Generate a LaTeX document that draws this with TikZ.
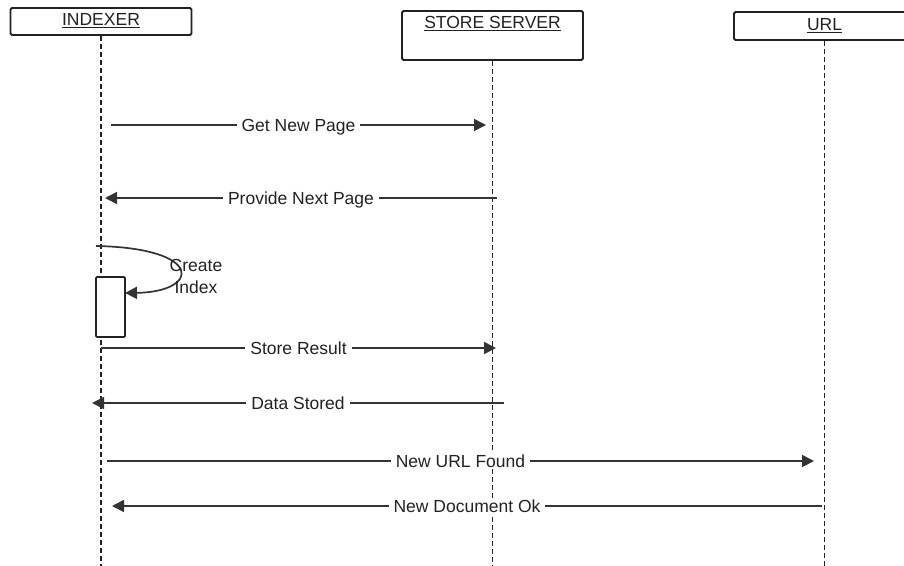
\documentclass[tikz,border=0pt]{standalone}
\usepackage{fontspec}
\setmainfont{Liberation Sans}
\usetikzlibrary{arrows.meta}
\definecolor{ink}{HTML}{222222}
\definecolor{wire}{HTML}{333333}
\begin{document}
\begin{tikzpicture}[x=1pt,y=-1pt,
  font=\fontsize{17.5}{22}\selectfont,
  head/.style={draw=ink, line width=1.8pt, rounded corners=1.5pt, fill=white,
    minimum width=181pt, inner sep=0pt},
  headtext/.style={text=ink, inner sep=0pt},
  life/.style={draw=ink, line width=1.3pt, dash pattern=on 5pt off 3pt},
  msg/.style={draw=wire, line width=1.7pt, -{Triangle[length=12pt,width=12pt]}},
  msglbl/.style={fill=white, text=ink, inner xsep=5pt, inner ysep=0pt,
    text height=14.5pt, text depth=2.3pt},
  actbox/.style={draw=ink, line width=1.6pt, fill=white, rounded corners=1pt,
    minimum width=29pt, minimum height=60pt, inner sep=0pt}]
\useasboundingbox (0,0) rectangle (904,565);
\clip (0,0) rectangle (904,565);
\fill[white] (0,0) rectangle (904,565);

% participants
\node[head, minimum height=27pt] (indexer) at (101,21.5) {};
\node[headtext] (indexerT) at (101,20.5) {\underline{INDEXER}};
\node[head, minimum height=49pt] (store) at (492.5,35.5) {};
\node[headtext] (storeT) at (492.5,23.5) {\underline{STORE SERVER}};
\node[head, minimum height=28pt] (url) at (824.5,26) {};
\node[headtext] (urlT) at (824.5,26) {\underline{URL}};

% lifelines
\coordinate (indexerEnd) at (101,566);
\coordinate (storeEnd) at (492.5,566);
\coordinate (urlEnd) at (824.5,566);
\draw[life] (indexer.south) -- (indexerEnd);
\draw[life] (store.south) -- (storeEnd);
\draw[life] (url.south) -- (urlEnd);

% activation bar on the indexer
\node[actbox] (act) at (110.5,307) {};

% message end points
\coordinate (m1a) at (111,125);   \coordinate (m1b) at (486,125);
\coordinate (m2a) at (497,198);   \coordinate (m2b) at (105,198);
\coordinate (loopStart) at (96,246); \coordinate (loopEnd) at (125,293);
\coordinate (m3a) at (101,348);   \coordinate (m3b) at (496,348);
\coordinate (m4a) at (504,403);   \coordinate (m4b) at (92,403);
\coordinate (m5a) at (107,461);   \coordinate (m5b) at (814,461);
\coordinate (m6a) at (822,506);   \coordinate (m6b) at (112,506);

% messages
\draw[msg] (m1a) -- node[msglbl] (l1) {Get New Page} (m1b);
\draw[msg] (m2a) -- node[msglbl] (l2) {Provide Next Page} (m2b);
\draw[msg] (loopStart) .. controls (205,248) and (200,292) .. (loopEnd);
\node[text=ink, inner sep=0pt, align=center] (l3) at (196,276) {Create\\Index};
\draw[msg] (m3a) -- node[msglbl] (l4) {Store Result} (m3b);
\draw[msg] (m4a) -- node[msglbl] (l5) {Data Stored} (m4b);
\draw[msg] (m5a) -- node[msglbl] (l6) {New URL Found} (m5b);
\draw[msg] (m6a) -- node[msglbl] (l7) {New Document Ok} (m6b);
\end{tikzpicture}
\end{document}
